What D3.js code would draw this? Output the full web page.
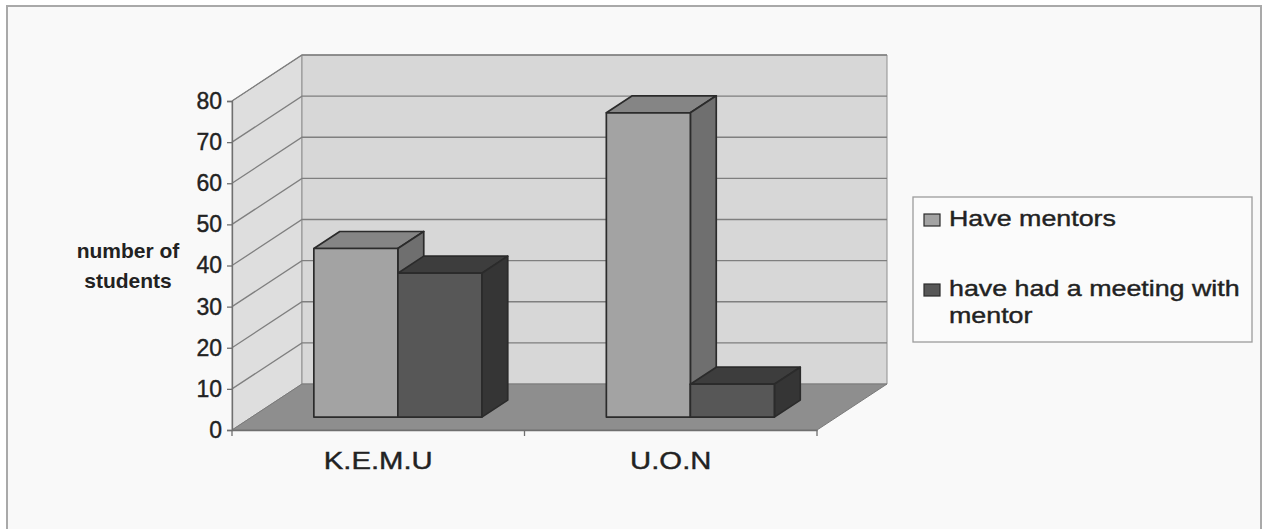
<!DOCTYPE html>
<html lang="en">
<head>
  <meta charset="utf-8">
  <title>Mentors - 3D column chart</title>
  <script src="https://d3js.org/d3.v7.js"></script>
  <style>
    body { margin: 0; background: #ffffff; }
    text { font-family: "Liberation Sans", Arial, sans-serif; fill: #222222; }
  </style>
</head>
<body>
  <div id="my_dataviz"></div>

  <script>
    // Data
    var categories = ["K.E.M.U", "U.O.N"];
    var series = ["Have mentors", "have had a meeting with mentor"];
    var haveMentors = [41, 74];
    var hadMeeting = [35, 8];
    var yTicks = [0, 10, 20, 30, 40, 50, 60, 70, 80];
    var yTitle = ["number of", "students"];
    var legendLines = [["Have mentors"], ["have had a meeting with", "mentor"]];

    // colours per series: front, top, side
    var faceColors = [
      {front: "#a3a3a3", top: "#858585", side: "#6f6f6f"},
      {front: "#575757", top: "#3d3d3d", side: "#353535"}
    ];

    var W = 1263, H = 529;
    // oblique depth offset of the whole plot box
    var DX = 70, DY = -46;
    // depth range of the bars (fraction of the box depth)
    var t0 = 0.28, t1 = 0.65;
    // the scanned text is a bit wider than it is tall
    var stretch = 1.22;

    var svg = d3.select("#my_dataviz")
      .append("svg")
      .attr("width", W)
      .attr("height", H);

    // frame
    svg.append("rect")
      .attr("x", 7).attr("y", 6)
      .attr("width", 1254).attr("height", 540)
      .attr("fill", "#f9f9f9")
      .attr("stroke", "#a9a9a9")
      .attr("stroke-width", 2);

    // scales (front plane)
    var y = d3.scaleLinear().domain([0, 80]).range([430, 101]);
    var x0 = d3.scaleBand().domain(categories).range([232, 817]);
    var x1 = d3.scaleBand().domain(series).range([0, x0.bandwidth()])
      .paddingInner(0).paddingOuter(0.741);

    function pt(x, yy, t) { return [x + DX * t, yy + DY * t]; }
    function poly(points) { return points.map(function(p) { return p.join(","); }).join(" "); }

    var xL = x0.range()[0], xR = x0.range()[1];

    // side wall
    svg.append("polygon")
      .attr("points", poly([pt(xL, y(0), 0), pt(xL, y(80), 0), pt(xL, y(80), 1), pt(xL, y(0), 1)]))
      .attr("fill", "#dedede").attr("stroke", "#8f8f8f").attr("stroke-width", 1);

    // back wall
    svg.append("polygon")
      .attr("points", poly([pt(xL, y(0), 1), pt(xL, y(80), 1), pt(xR, y(80), 1), pt(xR, y(0), 1)]))
      .attr("fill", "#d7d7d7").attr("stroke", "#8f8f8f").attr("stroke-width", 1);

    // floor
    svg.append("polygon")
      .attr("points", poly([pt(xL, y(0), 0), pt(xR, y(0), 0), pt(xR, y(0), 1), pt(xL, y(0), 1)]))
      .attr("fill", "#8e8e8e").attr("stroke", "#7a7a7a").attr("stroke-width", 1);

    // gridlines on side wall and back wall
    var grid = svg.append("g").attr("stroke", "#7f7f7f").attr("stroke-width", 1.3).attr("fill", "none");
    yTicks.filter(function(d) { return d > 0; }).forEach(function(d) {
      var a = pt(xL, y(d), 0), b = pt(xL, y(d), 1), c = pt(xR, y(d), 1);
      grid.append("polyline").attr("points", poly([a, b, c]));
    });

    // front y axis
    svg.append("g")
      .attr("transform", "translate(" + xL + ",0)")
      .call(d3.axisLeft(y).tickValues(yTicks).tickSize(5).tickPadding(5))
      .call(function(g) {
        g.select(".domain").attr("stroke", "#6f6f6f").attr("stroke-width", 1.3);
        g.selectAll(".tick line").attr("stroke", "#6f6f6f").attr("stroke-width", 1.3);
        g.selectAll(".tick text")
          .style("font-family", "'Liberation Sans', Arial, sans-serif")
          .style("font-size", "23px")
          .attr("fill", "#222")
          .attr("stroke", "#222").attr("stroke-width", 0.4);
      });

    // front x axis (floor edge)
    svg.append("g")
      .attr("transform", "translate(0," + y(0) + ")")
      .call(d3.axisBottom(x0).tickSize(0).tickPadding(22))
      .call(function(g) {
        g.select(".domain").attr("stroke", "#6f6f6f").attr("stroke-width", 1.3);
        g.selectAll(".tick text")
          .style("font-family", "'Liberation Sans', Arial, sans-serif")
          .style("font-size", "24px")
          .attr("fill", "#222")
          .attr("stroke", "#222").attr("stroke-width", 0.4)
          .attr("transform", "scale(" + stretch + ",1)");
      });
    // category boundary ticks
    svg.append("g").selectAll("line")
      .data([xL, x0(categories[1]), xR])
      .join("line")
      .attr("x1", function(d) { return d; }).attr("x2", function(d) { return d; })
      .attr("y1", y(0)).attr("y2", y(0) + 6)
      .attr("stroke", "#6f6f6f").attr("stroke-width", 1.3);

    // bars
    var bars = [];
    categories.forEach(function(c, i) {
      [haveMentors[i], hadMeeting[i]].forEach(function(v, j) {
        bars.push({cat: c, s: series[j], si: j, value: v});
      });
    });

    var barG = svg.append("g")
      .attr("stroke", "#2b2b2b").attr("stroke-width", 1.7).attr("stroke-linejoin", "round");

    bars.forEach(function(d) {
      var l = x0(d.cat) + x1(d.s), r = l + x1.bandwidth();
      var yb = y(0), yt = y(d.value);
      var col = faceColors[d.si];
      var g = barG.append("g");
      g.append("polygon")
        .attr("points", poly([pt(l, yt, t0), pt(r, yt, t0), pt(r, yt, t1), pt(l, yt, t1)]))
        .attr("fill", col.top);
      g.append("polygon")
        .attr("points", poly([pt(r, yt, t0), pt(r, yt, t1), pt(r, yb, t1), pt(r, yb, t0)]))
        .attr("fill", col.side);
      g.append("polygon")
        .attr("points", poly([pt(l, yt, t0), pt(r, yt, t0), pt(r, yb, t0), pt(l, yb, t0)]))
        .attr("fill", col.front);
    });

    // y title
    svg.append("text")
      .attr("text-anchor", "middle")
      .style("font-size", "21px")
      .style("font-weight", "bold")
      .selectAll("tspan")
      .data(yTitle)
      .join("tspan")
      .attr("x", 128)
      .attr("y", function(d, i) { return 258 + i * 30; })
      .text(function(d) { return d; });

    // legend
    var legend = svg.append("g");
    legend.append("rect")
      .attr("x", 913).attr("y", 197)
      .attr("width", 339).attr("height", 145)
      .attr("fill", "#fbfbfb")
      .attr("stroke", "#9c9c9c").attr("stroke-width", 1.3);

    var legendY = [226, 296];
    legendLines.forEach(function(lines, i) {
      legend.append("rect")
        .attr("x", 924).attr("y", legendY[i] - 12)
        .attr("width", 16).attr("height", 12)
        .attr("fill", faceColors[i].front)
        .attr("stroke", "#2b2b2b").attr("stroke-width", 1.2);
      legend.append("text")
        .attr("transform", "translate(949," + legendY[i] + ") scale(" + stretch + ",1)")
        .style("font-size", "22px")
        .attr("stroke", "#222").attr("stroke-width", 0.4)
        .selectAll("tspan")
        .data(lines)
        .join("tspan")
        .attr("x", 0)
        .attr("y", function(d, k) { return k * 27; })
        .text(function(d) { return d; });
    });
  </script>
</body>
</html>
